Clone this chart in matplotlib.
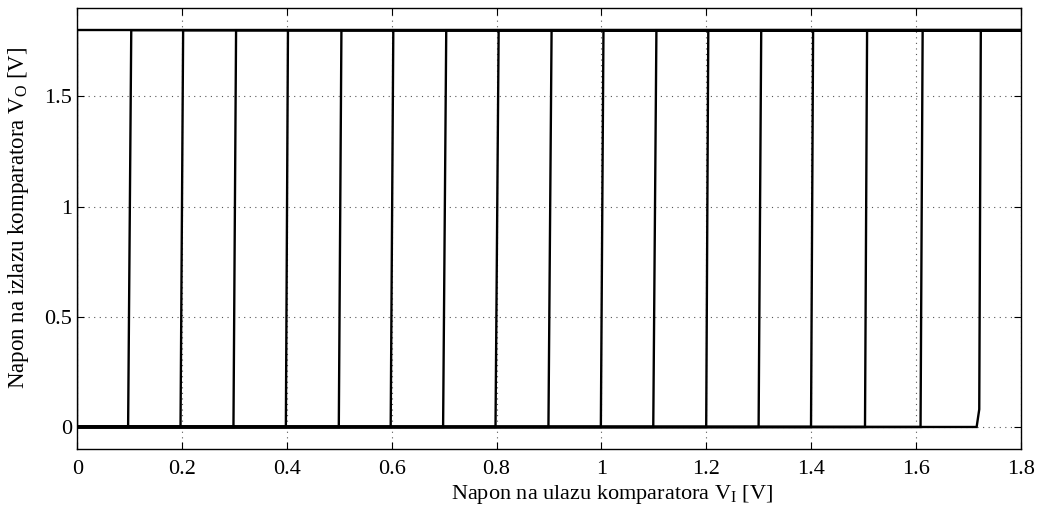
import matplotlib
matplotlib.use("Agg")
import matplotlib.pyplot as plt

plt.rcParams['font.family'] = ['Liberation Serif', 'DejaVu Serif']
plt.rcParams['mathtext.fontset'] = 'custom'
plt.rcParams['mathtext.rm'] = 'Liberation Serif'

# Comparator transfer traces: output goes from 0 V to 1.8 V at each threshold
rise_start = [0.0, 0.097, 0.197, 0.298, 0.398, 0.499, 0.598, 0.698, 0.798, 0.899,
              0.999, 1.099, 1.200, 1.300, 1.400, 1.503, 1.609, 1.716]
rise_end = [0.0, 0.103, 0.202, 0.303, 0.402, 0.504, 0.603, 0.704, 0.804, 0.905,
            1.004, 1.105, 1.204, 1.305, 1.404, 1.507, 1.613, 1.724]
# last trace has a small kink near the bottom
kink_x = [None] * 17 + [1.721]
kink_y = [None] * 17 + [0.08]
v_low = 0.0
v_high = 1.8
x_min, x_max = 0.0, 1.8

xticks = [0, 0.2, 0.4, 0.6, 0.8, 1.0, 1.2, 1.4, 1.6, 1.8]
xticklabels = ['0', '0.2', '0.4', '0.6', '0.8', '1', '1.2', '1.4', '1.6', '1.8']
yticks = [0, 0.5, 1.0, 1.5]
yticklabels = ['0', '0.5', '1', '1.5']

fig = plt.figure(figsize=(10.4, 5.08), dpi=100)
ax = fig.add_axes([0.0743, 0.1161, 0.9071, 0.8679])

for i, (s, e) in enumerate(zip(rise_start, rise_end)):
    xs = [x_min, s]
    ys = [v_low, v_low]
    if kink_x[i] is not None:
        xs.append(kink_x[i])
        ys.append(kink_y[i])
    xs += [e, x_max]
    ys += [v_high, v_high]
    ax.plot(xs, ys, color='black', lw=1.7, solid_joinstyle='miter', zorder=3)

ax.set_xlim(0, 1.8)
ax.set_ylim(-0.1, 1.9)
ax.set_xticks(xticks)
ax.set_xticklabels(xticklabels)
ax.set_yticks(yticks)
ax.set_yticklabels(yticklabels)
ax.tick_params(direction='in', top=True, right=True, labelsize=16, length=5, width=0.8)
ax.tick_params(axis='x', pad=8)
ax.grid(True, linestyle=(0, (1, 4)), color='#555555', lw=0.8)
for sp in ax.spines.values():
    sp.set_linewidth(1.0)

fig.text(612 / 1040, 1 - 495 / 508, r'Napon na ulazu komparatora V$_\mathrm{I}$ [V]',
         fontsize=16, ha='center', va='center')
fig.text(19 / 1040, 1 - 218 / 508, r'Napon na izlazu komparatora V$_\mathrm{O}$ [V]',
         fontsize=16.5, ha='center', va='center', rotation=90)

fig.savefig('out.png', dpi=100)
